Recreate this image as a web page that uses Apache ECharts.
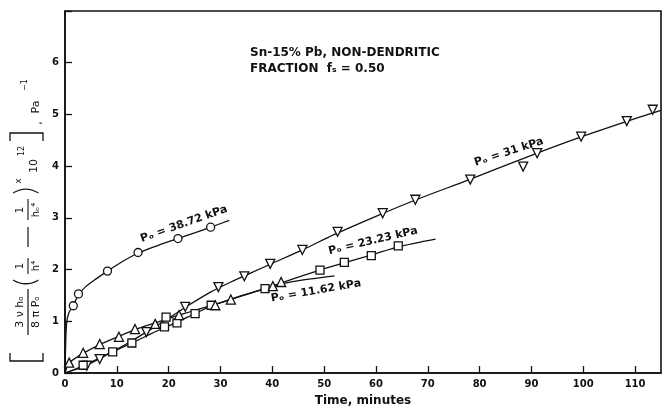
<!DOCTYPE html>
<html>
<head>
<meta charset="utf-8">
<script src="https://cdn.jsdelivr.net/npm/echarts@6/dist/echarts.min.js"></script>
<style>
  html, body { margin: 0; padding: 0; background: #fff; }
  #chart { width: 665px; height: 408px; }
</style>
</head>
<body>
<div id="chart"></div>
<script>
// Measured points, [time (min), value]
const pts3872 = [[1.6, 1.30], [2.6, 1.53], [8.2, 1.97], [14.1, 2.33], [21.8, 2.60], [28.1, 2.82]];
const pts31 = [[4.2, 0.14], [6.7, 0.27], [15.7, 0.79], [23.2, 1.28], [29.6, 1.66], [34.6, 1.87],
  [39.6, 2.11], [45.8, 2.38], [52.6, 2.73], [61.3, 3.09], [67.6, 3.35], [78.2, 3.74],
  [88.4, 3.99], [91.1, 4.25], [99.6, 4.57], [108.4, 4.87], [113.4, 5.09]];
const pts2323 = [[3.5, 0.15], [9.2, 0.41], [12.9, 0.58], [19.2, 0.89], [19.5, 1.08], [21.6, 0.97],
  [25.1, 1.15], [28.2, 1.31], [38.6, 1.63], [49.2, 1.99], [53.9, 2.14], [59.1, 2.27], [64.3, 2.46]];
const pts1162 = [[0.8, 0.20], [3.5, 0.39], [6.7, 0.56], [10.4, 0.70], [13.5, 0.85], [17.4, 0.95],
  [22.0, 1.12], [29.0, 1.31], [32.0, 1.42], [40.1, 1.68], [41.7, 1.76]];

// Fitted curves drawn through each data set
const fit3872 = [[0, 0], [0.1, 0.45], [0.3, 0.95], [0.7, 1.15], [1.6, 1.31], [2.6, 1.51], [4, 1.67],
  [6, 1.82], [8.2, 1.97], [11, 2.15], [14.1, 2.32], [18, 2.47], [21.8, 2.60], [25, 2.71],
  [28.1, 2.82], [31.7, 2.95]];
const fit31 = [[0, 0], [4, 0.14], [8, 0.35], [12, 0.57], [16, 0.81], [20, 1.06], [24, 1.32],
  [28, 1.56], [32, 1.76], [36, 1.94], [40, 2.12], [46, 2.39], [52, 2.68], [60, 3.03], [68, 3.36],
  [78, 3.74], [90, 4.21], [100, 4.58], [110, 4.92], [115, 5.08]];
const fit2323 = [[0, 0], [3.5, 0.14], [9.2, 0.41], [12.9, 0.58], [16, 0.73], [19.2, 0.88],
  [21.6, 0.98], [25.1, 1.15], [28.4, 1.30], [32, 1.43], [38.6, 1.63], [44, 1.82], [49.2, 1.99],
  [53.9, 2.13], [59.1, 2.28], [64.3, 2.44], [71.5, 2.59]];
const fit1162 = [[0, 0], [0.4, 0.12], [0.8, 0.20], [3.5, 0.38], [6.7, 0.55], [10.4, 0.71],
  [13.5, 0.84], [17.4, 0.97], [22, 1.12], [26, 1.24], [29, 1.33], [32, 1.42], [36, 1.55],
  [40.1, 1.68], [42, 1.73], [46, 1.80], [52, 1.88]];

const xTicks = [0, 10, 20, 30, 40, 50, 60, 70, 80, 90, 100, 110];
const yTicks = [0, 1, 2, 3, 4, 5, 6];

const INK = '#111';
const FONT = 'DejaVu Sans';

const chart = echarts.init(document.getElementById('chart'), null, { renderer: 'canvas' });

function fitLine(data) {
  return {
    type: 'line', data: data, showSymbol: false, smooth: 0.3, silent: true, z: 2,
    lineStyle: { color: INK, width: 1.3 }
  };
}
function markers(data, symbol, rotate, size) {
  return {
    type: 'scatter', data: data, symbol: symbol, symbolRotate: rotate || 0,
    symbolSize: size || 8, z: 5,
    itemStyle: { color: '#fff', borderColor: INK, borderWidth: 1.3, opacity: 1 }
  };
}

function txt(text, x, y, size, extra, weight, align) {
  return Object.assign({
    type: 'text', x: x, y: y, silent: true,
    style: {
      text: text, fontFamily: FONT, fontSize: size, fontWeight: weight || 'normal',
      fill: INK, align: align || 'center', verticalAlign: 'middle'
    }
  }, extra || {});
}
function seg(x1, y1, x2, y2, w) {
  return { type: 'line', silent: true, shape: { x1: x1, y1: y1, x2: x2, y2: y2 }, style: { stroke: INK, lineWidth: w || 1 } };
}

// Y-axis title, laid out along the reading direction and turned upright
const yTitle = {
  type: 'group', x: 28, y: 363, rotation: Math.PI / 2, silent: true,
  children: [
    { type: 'polyline', shape: { points: [[10, -18], [2, -18], [2, 15], [10, 15]] }, style: { stroke: INK, fill: null, lineWidth: 1.3 } },
    txt('3 ν hₒ', 51, -8, 11),
    seg(28, 0, 74, 0, 1.2),
    txt('8 π Pₒ', 51, 8, 11),
    txt('(', 81, 0, 28, null, 200),
    txt('1', 97, -8, 10),
    seg(89, 0, 105, 0, 1.1),
    txt('h⁴', 97, 8, 10),
    seg(116, 0, 136, 0, 1.2),
    txt('1', 153, -8, 10),
    seg(143, 0, 164, 0, 1.1),
    txt('hₒ⁴', 153, 8, 10),
    txt(')', 172, 0, 28, null, 200),
    txt('x', 182, -9, 9),
    txt('10', 197, 6, 11),
    txt('12', 212, -6, 8),
    { type: 'polyline', shape: { points: [[222, -18], [230, -18], [230, 15], [222, 15]] }, style: { stroke: INK, fill: null, lineWidth: 1.3 } },
    txt(',', 240, 10, 11),
    txt('Pa', 256, 8, 11),
    txt('−1', 278, -3, 8)
  ]
};

const option = {
  backgroundColor: '#fff',
  animation: false,
  grid: {
    left: 65, right: 4, top: 11, bottom: 35,
    show: true, borderColor: INK, borderWidth: 1.6, backgroundColor: 'transparent',
    outerBoundsMode: 'none'
  },
  xAxis: {
    type: 'value', min: 0, max: 115, interval: 10,
    axisLine: { show: true, lineStyle: { color: INK, width: 1.6 } },
    axisTick: { show: true, inside: true, length: 7, lineStyle: { color: INK, width: 1.3 } },
    axisLabel: {
      color: INK, fontFamily: FONT, fontSize: 10, fontWeight: 'bold', margin: 6, showMaxLabel: false,
      formatter: v => (xTicks.indexOf(v) >= 0 ? String(v) : '')
    },
    splitLine: { show: false },
    name: 'Time, minutes', nameLocation: 'middle', nameGap: 22,
    nameTextStyle: { color: INK, fontFamily: FONT, fontSize: 12, fontWeight: 'bold' }
  },
  yAxis: {
    type: 'value', min: 0, max: 7, interval: 1,
    axisLine: { show: true, lineStyle: { color: INK, width: 1.6 } },
    axisTick: { show: true, inside: true, length: 7, lineStyle: { color: INK, width: 1.3 } },
    axisLabel: {
      color: INK, fontFamily: FONT, fontSize: 10, fontWeight: 'bold', margin: 6,
      formatter: v => (yTicks.indexOf(v) >= 0 ? String(v) : '')
    },
    splitLine: { show: false }
  },
  series: [
    fitLine(fit3872), fitLine(fit31), fitLine(fit2323), fitLine(fit1162),
    markers(pts3872, 'circle', 0, 8),
    markers(pts31, 'triangle', 180, 9),
    markers(pts2323, 'rect', 0, 8),
    markers(pts1162, 'triangle', 0, 9)
  ],
  graphic: [
    txt('Sn-15% Pb, NON-DENDRITIC', 250, 53, 12, null, 'bold', 'left'),
    txt('FRACTION  fₛ = 0.50', 250, 69, 12, null, 'bold', 'left'),
    txt('Pₒ = 38.72 kPa', 184, 224, 11, { rotation: 0.34 }, 'bold'),
    txt('Pₒ = 31 kPa', 509, 152, 11, { rotation: 0.31 }, 'bold'),
    txt('Pₒ = 23.23 kPa', 373, 241, 11, { rotation: 0.23 }, 'bold'),
    txt('Pₒ = 11.62 kPa', 316, 291, 11, { rotation: 0.17 }, 'bold'),
    yTitle
  ]
};

chart.setOption(option);
</script>
</body>
</html>
